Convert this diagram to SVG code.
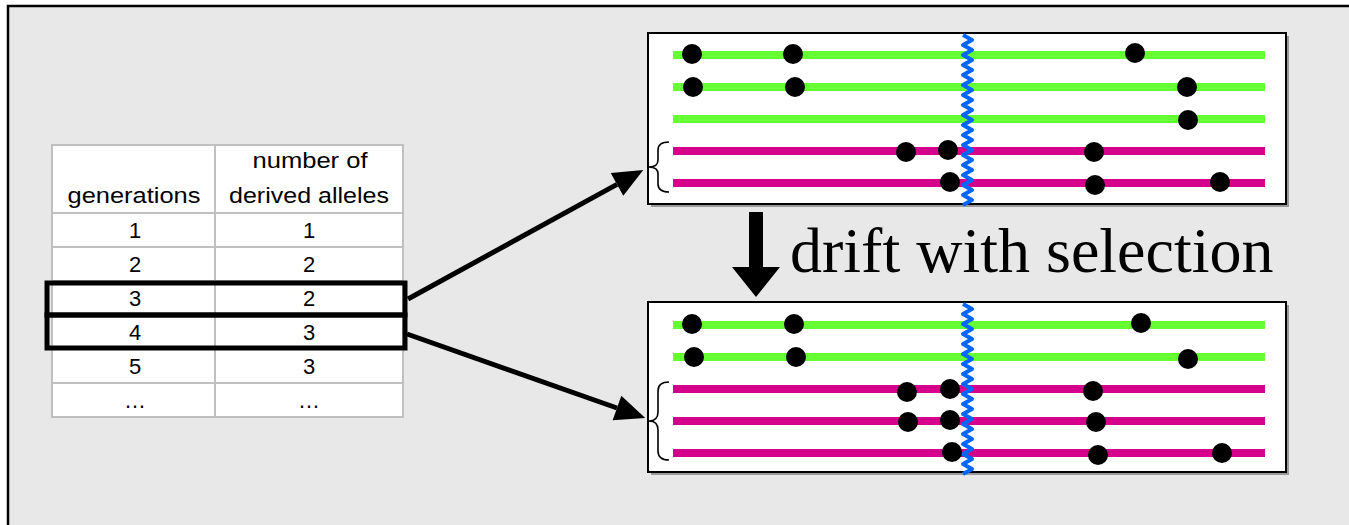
<svg xmlns="http://www.w3.org/2000/svg" width="1349" height="525" viewBox="0 0 1349 525">
<style>
.t{font-family:"Liberation Sans",Arial,sans-serif;font-size:22px;fill:#000;text-anchor:middle}
.grid{stroke:#c0c0c0;stroke-width:2;fill:none}
.box{fill:#fff;stroke:#000;stroke-width:2}
.shadow{fill:none;stroke:#9a9a9a;stroke-width:2}
.g{stroke:#66ff33;stroke-width:8}
.m{stroke:#d4008c;stroke-width:8}
.dot{fill:#000}
.wave{fill:none;stroke:#0066ff;stroke-width:4;stroke-linejoin:round}
.brace{fill:none;stroke:#000;stroke-width:1.6}
.conn{stroke:#000;stroke-width:5;fill:none}
.hl{fill:none;stroke:#000;stroke-width:5}
</style>
<defs>
<marker id="ah" markerUnits="userSpaceOnUse" markerWidth="32" markerHeight="28" refX="0" refY="13" orient="auto" overflow="visible">
<path d="M0,0 L30,13 L0,26 z" fill="#000"/>
</marker>
</defs>
<rect x="0" y="0" width="1349" height="525" fill="#fff"/>
<rect x="8" y="6" width="1360" height="540" fill="#e8e8e8" stroke="#000" stroke-width="2.5"/>

<g id="table">
<rect x="52" y="145" width="351" height="272" fill="#fff"/>
<path class="grid" d="M52,145 H403 V417 H52 Z M215,145 V417 M52,213 H403 M52,247 H403 M52,281 H403 M52,315 H403 M52,349 H403 M52,383 H403"/>
<text class="t" x="310" y="168" textLength="115" lengthAdjust="spacingAndGlyphs">number of</text>
<text class="t" x="134" y="203" textLength="133" lengthAdjust="spacingAndGlyphs">generations</text>
<text class="t" x="309" y="203" textLength="160" lengthAdjust="spacingAndGlyphs">derived alleles</text>
<text class="t" x="135" y="238">1</text><text class="t" x="309" y="238">1</text>
<text class="t" x="135" y="272">2</text><text class="t" x="309" y="272">2</text>
<text class="t" x="135" y="306">3</text><text class="t" x="309" y="306">2</text>
<text class="t" x="135" y="340">4</text><text class="t" x="309" y="340">3</text>
<text class="t" x="135" y="374">5</text><text class="t" x="309" y="374">3</text>
<text class="t" x="135" y="408">…</text><text class="t" x="309" y="408">…</text>
</g>
<g id="highlight-gen3">
<rect class="hl" x="47" y="283" width="358" height="32"/>
</g>
<g id="highlight-gen4">
<rect class="hl" x="47" y="315" width="358" height="33"/>
</g>

<g id="haplotypes-before">
<polyline class="shadow" points="1288,36 1288,206 651,206"/>
<rect class="box" x="648" y="33" width="638" height="171"/>
<line class="g" x1="673" y1="55" x2="1265" y2="55"/>
<line class="g" x1="673" y1="87" x2="1265" y2="87"/>
<line class="g" x1="673" y1="119" x2="1265" y2="119"/>
<line class="m" x1="673" y1="151" x2="1265" y2="151"/>
<line class="m" x1="673" y1="183" x2="1265" y2="183"/>
<path class="wave" d="M963,35 l9,5 -9,5 9,5 -9,5 9,5 -9,5 9,5 -9,5 9,5 -9,5 9,5 -9,5 9,5 -9,5 9,5 -9,5 9,5 -9,5 9,5 -9,5 9,5 -9,5 9,5 -9,5 9,5 -9,5 9,5 -9,5 9,5 -9,5 9,5 -9,5 9,5 -9,5"/>
<circle class="dot" cx="692" cy="54" r="10"/><circle class="dot" cx="793" cy="54" r="10"/><circle class="dot" cx="1135" cy="53" r="10"/>
<circle class="dot" cx="693" cy="87" r="10"/><circle class="dot" cx="795" cy="87" r="10"/><circle class="dot" cx="1187" cy="87" r="10"/>
<circle class="dot" cx="1188" cy="120" r="10"/>
<circle class="dot" cx="906" cy="152" r="10"/><circle class="dot" cx="948" cy="150" r="10"/><circle class="dot" cx="1094" cy="152" r="10"/>
<circle class="dot" cx="950" cy="182" r="10"/><circle class="dot" cx="1095" cy="185" r="10"/><circle class="dot" cx="1220" cy="182" r="10"/>
<path class="brace" d="M669,142 Q658,142 658,150 L658,160 Q658,167 649,167 Q658,167 658,174 L658,184 Q658,192 669,192"/>
</g>

<g id="haplotypes-after">
<polyline class="shadow" points="1288,305 1288,474 651,474"/>
<rect class="box" x="648" y="302" width="638" height="170"/>
<line class="g" x1="673" y1="325" x2="1265" y2="325"/>
<line class="g" x1="673" y1="357" x2="1265" y2="357"/>
<line class="m" x1="673" y1="389" x2="1265" y2="389"/>
<line class="m" x1="673" y1="421" x2="1265" y2="421"/>
<line class="m" x1="673" y1="453" x2="1265" y2="453"/>
<path class="wave" d="M963,304 l9,5 -9,5 9,5 -9,5 9,5 -9,5 9,5 -9,5 9,5 -9,5 9,5 -9,5 9,5 -9,5 9,5 -9,5 9,5 -9,5 9,5 -9,5 9,5 -9,5 9,5 -9,5 9,5 -9,5 9,5 -9,5 9,5 -9,5 9,5 -9,5 9,5 -9,5"/>
<circle class="dot" cx="692" cy="324" r="10"/><circle class="dot" cx="794" cy="324" r="10"/><circle class="dot" cx="1141" cy="323" r="10"/>
<circle class="dot" cx="694" cy="357" r="10"/><circle class="dot" cx="796" cy="357" r="10"/><circle class="dot" cx="1188" cy="359" r="10"/>
<circle class="dot" cx="907" cy="392" r="10"/><circle class="dot" cx="950" cy="389" r="10"/><circle class="dot" cx="1093" cy="391" r="10"/>
<circle class="dot" cx="908" cy="422" r="10"/><circle class="dot" cx="950" cy="420" r="10"/><circle class="dot" cx="1096" cy="422" r="10"/>
<circle class="dot" cx="952" cy="452" r="10"/><circle class="dot" cx="1098" cy="455" r="10"/><circle class="dot" cx="1222" cy="453" r="10"/>
<path class="brace" d="M669,382 Q658,382 658,391 L658,412 Q658,421 649,421 Q658,421 658,430 L658,451 Q658,460 669,460"/>
</g>

<g id="connectors">
<line class="conn" x1="408" y1="299" x2="617" y2="184.4" marker-end="url(#ah)"/>
<line class="conn" x1="407" y1="334" x2="617" y2="408" marker-end="url(#ah)"/>
<polygon points="749,212 763,212 763,267 780,267 756,297 732,267 749,267" fill="#000"/>
</g>
<g id="label-drift">
<text x="790" y="272" font-family="'Liberation Serif','Times New Roman',serif" font-size="64">drift with selection</text>
</g>
</svg>
